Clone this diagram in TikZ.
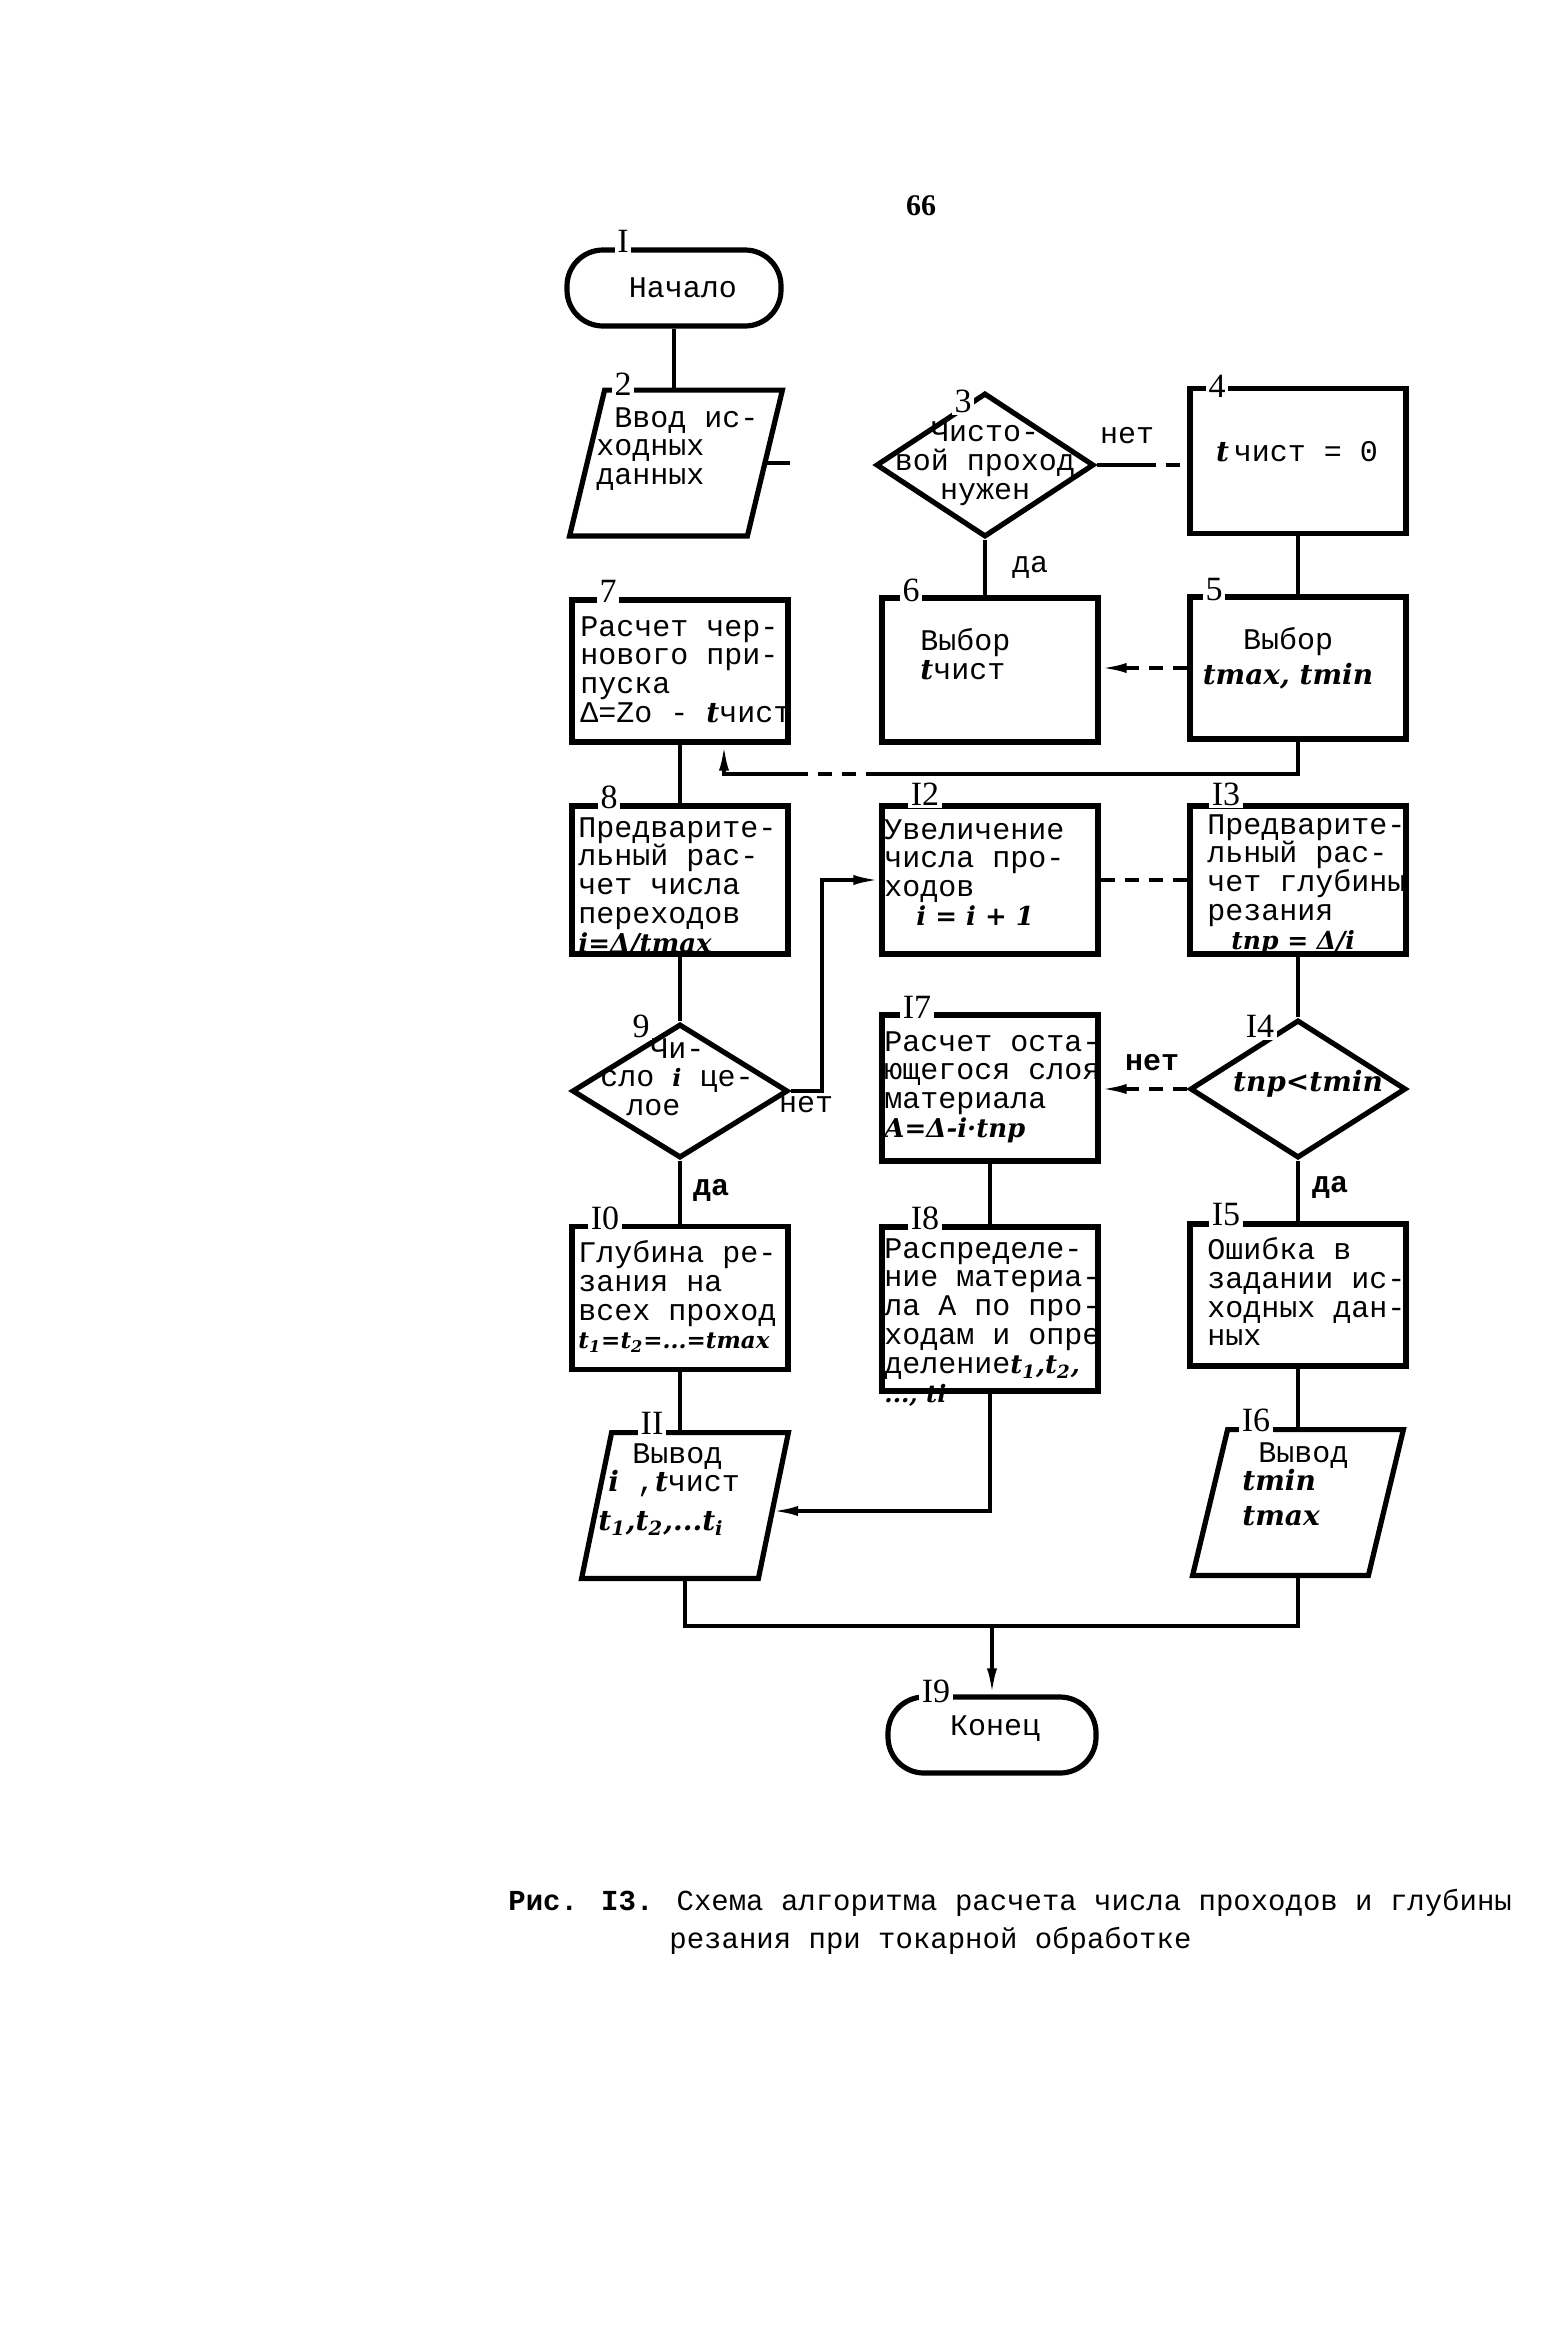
\documentclass[tikz,border=0pt]{standalone}
\usepackage{fontspec}
\usetikzlibrary{shapes.geometric,arrows.meta}
\newfontfamily\tw{Liberation Mono}
\newfontfamily\hand{DejaVu Serif}
\newfontfamily\numf{Liberation Serif}
\newcommand{\hw}[1]{{\hand\itshape\bfseries\fontsize{14}{14.4}\selectfont #1}}
\newcommand{\hws}[2]{{\hand\itshape\bfseries\fontsize{#1}{14.4}\selectfont #2}}
\tikzset{
  outl/.style={line width=2.6pt},
  box/.style={draw, outl, minimum width=108pt, minimum height=72pt, inner sep=0pt},
  term/.style={draw, outl, rounded corners=18pt, minimum width=107pt, minimum height=38pt, inner sep=0pt},
  dia/.style={draw, outl, diamond, inner sep=0pt},
  pbody/.style={inner sep=0pt, minimum height=72.5pt},
  tx/.style={inner sep=0pt, align=left, font=\tw\fontsize{15}{14.4}\selectfont},
  txb/.style={tx, font=\tw\bfseries\fontsize{15}{14.4}\selectfont},
  num/.style={fill=white, inner sep=1.2pt, font=\numf\fontsize{17}{17}\selectfont},
  conn/.style={line width=1.8pt},
  arr/.style={conn, -{Latex[length=13pt,width=5pt]}},
  dsh/.style={dash pattern=on 7pt off 5pt},
}
\begin{document}
\begin{tikzpicture}[x=0.5pt,y=-0.5pt]
\fill[white] (0,0) rectangle (1560,2329);
\useasboundingbox (0,0) rectangle (1560,2329);

\node[font=\numf\bfseries\fontsize{15}{15}\selectfont] (pg) at (921,206) {66};

% ---------- shapes ----------
\node[term] (t1) at (674,288) {};
\node[pbody, minimum width=106pt] (p2) at (676,463) {};
\draw[outl] ([xshift=17.5pt]p2.north west) -- (p2.north east) -- ([xshift=-17.5pt]p2.south east) -- (p2.south west) -- cycle;
\node[dia, minimum width=109pt, minimum height=72pt] (d3) at (985,465) {};
\node[box, minimum height=72.5pt] (b4) at (1298,461) {};
\node[box, minimum height=71pt] (b5) at (1298,668) {};
\node[box, minimum height=72pt] (b6) at (990,670) {};
\node[box, minimum height=71pt] (b7) at (680,671) {};
\node[box, minimum height=74pt] (b8) at (680,880) {};
\node[box, minimum height=74pt] (b12) at (990,880) {};
\node[box, minimum height=74pt] (b13) at (1298,880) {};
\node[dia, minimum width=108pt, minimum height=67pt] (d9) at (680,1091) {};
\node[dia, minimum width=108pt, minimum height=69pt] (d14) at (1298,1089) {};
\node[box, minimum height=73pt] (b17) at (990,1088) {};
\node[box, minimum height=71.5pt] (b10) at (680,1298) {};
\node[box, minimum height=71pt] (b15) at (1298,1295) {};
\node[box, minimum height=82pt] (b18) at (990,1309) {};
\node[pbody, minimum width=103pt] (p11) at (685,1505.5) {};
\draw[outl] ([xshift=15pt]p11.north west) -- (p11.north east) -- ([xshift=-15pt]p11.south east) -- (p11.south west) -- cycle;
\node[pbody, minimum width=105pt] (p16) at (1298,1502.5) {};
\draw[outl] ([xshift=17.5pt]p16.north west) -- (p16.north east) -- ([xshift=-17.5pt]p16.south east) -- (p16.south west) -- cycle;
\node[term, minimum width=104pt] (t19) at (992,1735) {};

% ---------- texts ----------
\node[tx] (x1) at (683,288) {Начало};
\node[tx, anchor=north west] (x2) at (596,407) {\hspace*{9pt}Ввод ис-\\ходных\\данных};
\node[tx, align=center] (x3) at (985,464) {Чисто-\\вой проход\\нужен};
\node[tx] (x4) at (1297,452) {\hw{t}\,чист = 0};
\node[tx, align=center, anchor=north] (x5) at (1288,627) {Выбор\\[3pt]\hw{tmax, tmin}};
\node[tx, anchor=north west] (x6) at (920,628) {Выбор\\\hw{t}чист};
\node[tx, anchor=north west] (x7) at (580,616) {Расчет чер-\\нового при-\\пуска\\Δ=Zo - \hw{t}чист};
\node[tx, anchor=north west] (x8) at (578,817) {Предварите-\\льный рас-\\чет числа\\переходов\\\hws{13}{i=Δ/tmax}};
\node[tx, anchor=north west] (x12) at (884,819) {Увеличение\\числа про-\\ходов\\\hspace*{16pt}\hws{13}{i = i + 1}};
\node[tx, anchor=north west] (x13) at (1207,814) {Предварите-\\льный рас-\\чет глубины\\резания\\\hspace*{12pt}\hws{12.5}{tпр = Δ/i}};
\node[tx, anchor=north west] (x9) at (600,1038) {\hspace*{25pt}Чи-\\сло \hws{12}{i} це-\\\hspace*{13pt}лое};
\node[tx] (x14) at (1308,1084) {\hw{tпр<tmin}};
\node[tx, anchor=north west] (x17) at (884,1031) {Расчет оста-\\ющегося слоя\\материала\\\hws{13}{A=Δ-i·tпр}};
\node[tx, anchor=north west] (x10) at (578,1240) {Глубина ре-\\зания на\\всех проход\\\hws{11.5}{t\textsubscript{1}=t\textsubscript{2}=...=tmax}};
\node[tx, anchor=north west] (x15) at (1207,1237) {Ошибка в\\задании ис-\\ходных дан-\\ных};
\node[tx, anchor=north west] (x18) at (884,1238) {Распределе-\\ние материа-\\ла А по про-\\ходам и опре\\деление\hws{13}{t\textsubscript{1},t\textsubscript{2},}\\\hws{12}{..., ti}};
\node[tx, anchor=north west] (x11) at (598,1443) {\hspace*{17pt}Вывод\\\hspace*{5pt}\hw{i} ,\hw{t}чист\\[5pt]\hw{t\textsubscript{1},t\textsubscript{2},...t\textsubscript{i}}};
\node[tx, anchor=north west] (x16) at (1242,1442) {\hspace*{8pt}Вывод\\\hw{tmin}\\[3pt]\hw{tmax}};
\node[tx] (x19) at (995,1729) {Конец};

% ---------- yes / no ----------
\node[tx] (n3) at (1127,436) {нет};
\node[tx] (y3) at (1030,567) {да};
\node[tx] (n9) at (806,1105) {нет};
\node[txb] (y9) at (711,1190) {да};
\node[txb] (n14) at (1152,1063) {нет};
\node[txb] (y14) at (1330,1187) {да};

% ---------- connectors ----------
\draw[conn] (t1.south) -- (t1.south |- p2.north);
\coordinate (p2r) at (765,463);
\coordinate (s2) at (790,463);
\draw[conn] (p2r) -- (s2);
\draw[conn] (d3.south) -- (d3.south |- b6.north);
\draw[conn] (d3.east) -- ++(45,0) coordinate (c34);
\draw[conn, dsh] (c34) -- (c34 -| b4.west);
\draw[conn] (b4.south) -- (b5.north);
\draw[arr, dsh] (b5.west) -- (b5.west -| b6.east);
\coordinate (r1) at (1298,774);
\coordinate (r2) at (880,774);
\coordinate (r3) at (800,774);
\coordinate (r4) at (724,774);
\draw[conn] (b5.south) -- (r1) -- (r2);
\draw[conn, dsh] (r2) -- (r3);
\draw[arr] (r3) -- (r4) -- (r4 |- b7.south);
\draw[conn] (b7.south) -- (b8.north);
\draw[conn] (b8.south) -- (d9.north);
\coordinate (c9) at (822,1091);
\draw[arr] (d9.east) -- (c9) |- (b12.west);
\draw[conn, dsh] (b12.east) -- (b13.west);
\draw[conn] (b13.south) -- (d14.north);
\draw[arr, dsh] (d14.west) -- (d14.west -| b17.east);
\draw[conn] (d9.south) -- (b10.north);
\draw[conn] (d14.south) -- (b15.north);
\draw[conn] (b17.south) -- (b18.north);
\draw[conn] (b10.south) -- (b10.south |- p11.north);
\draw[conn] (b15.south) -- (b15.south |- p16.north);
\coordinate (p11r) at (772,1511);
\draw[arr] (b18.south) |- (p11r);
\coordinate (j) at (992,1626);
\draw[conn] (p11.south) |- (j);
\draw[conn] (p16.south) |- (j);
\draw[arr] (j) -- (t19.north);

% ---------- numbers ----------
\node[num] (m1) at (623,241) {I};
\node[num] (m2) at (623,384) {2};
\node[num] (m3) at (963,401) {3};
\node[num] (m4) at (1217,386) {4};
\node[num] (m5) at (1214,590) {5};
\node[num] (m6) at (911,590) {6};
\node[num] (m7) at (608,591) {7};
\node[num] (m8) at (609,797) {8};
\node[num] (m12) at (925,794) {I2};
\node[num] (m13) at (1226,794) {I3};
\node[num] (m9) at (641,1026) {9};
\node[num] (m14) at (1260,1026) {I4};
\node[num] (m17) at (917,1007) {I7};
\node[num] (m10) at (605,1218) {I0};
\node[num] (m15) at (1226,1215) {I5};
\node[num] (m18) at (925,1218) {I8};
\node[num] (m11) at (652,1423) {II};
\node[num] (m16) at (1256,1420) {I6};
\node[num] (m19) at (936,1691) {I9};

% ---------- caption ----------
\node[tx, anchor=west, font=\tw\fontsize{14.5}{14.4}\selectfont] (cap1) at (508,1903) {{\bfseries Рис. I3.} Схема алгоритма расчета числа проходов и глубины};
\node[tx, anchor=west, font=\tw\fontsize{14.5}{14.4}\selectfont] (cap2) at (669,1941) {резания при токарной обработке};
\end{tikzpicture}
\end{document}
